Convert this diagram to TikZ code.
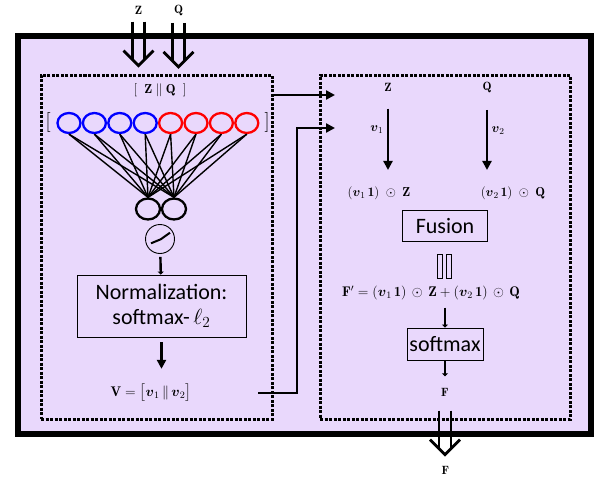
\RequirePackage{fix-cm}
\documentclass[tikz,border=0pt]{standalone}
\usepackage{amsmath}
\usepackage{fontspec}
\newfontfamily\calibri{Carlito}
\usepackage{tikz}
\usetikzlibrary{shapes.geometric, positioning, arrows.meta, calc}
\definecolor{panelpurple}{RGB}{233,216,252}

\begin{document}
\begin{tikzpicture}[
  x=1pt, y=-1pt,
  font=\fontsize{12}{14}\selectfont,
  dotbox/.style={draw, line width=3pt, dash pattern=on 3pt off 1.5pt},
  unit/.style={ellipse, draw, line width=2.3pt, minimum width=23pt,
    minimum height=20pt, inner sep=0pt},
  opbox/.style={draw, line width=0.8pt, align=center, inner sep=1pt,
    font=\calibri\fontsize{22}{25}\selectfont},
  arrow/.style={-{Triangle[width=9pt,length=9pt]}, line width=2.6pt},
  stub/.style={-{Triangle[width=6pt,length=3pt]}, line width=2.4pt},
  mathlbl/.style={font=\fontsize{13}{15}\selectfont},
  fat in/.pic={
    \draw[line width=2.8pt] (-6,0) -- (-6,37) (6,0) -- (6,37);
    \draw[line width=2.8pt] (-15,29) -- (0,44) -- (15,29);
  }
]
\useasboundingbox (0,0) rectangle (603,480);
\draw[line width=6pt, fill=panelpurple] (18,36) rectangle (591,434);
\node[dotbox, minimum width=231pt, minimum height=344pt] (lbox) at (156.5,247) {};
\node[dotbox, minimum width=250pt, minimum height=344pt] (rbox) at (445,247) {};

% inputs
\node (zin) at (138.5,10) {$\mathbf{Z}$};
\node (qin) at (178.5,10) {$\mathbf{Q}$};
\path (zin.south) ++(0,4) pic {fat in};
\path (qin.south) ++(0,4) pic {fat in};

% left block
\node[mathlbl] (zq) at (160,90) {$[\;\;\mathbf{Z}\;\|\;\mathbf{Q}\;\;]$};
\foreach \i/\c in {1/blue,2/blue,3/blue,4/blue,5/red,6/red,7/red,8/red}
  \node[unit, draw=\c] (u\i) at ({43.6+25.4*\i},123) {};
\node[font=\fontsize{20}{22}\selectfont] (lbr) at (48,122) {[};
\node[font=\fontsize{20}{22}\selectfont] (rbr) at (267,122) {]};
\node[unit, minimum width=24pt, minimum height=21pt] (h1) at (148,209) {};
\node[unit, minimum width=24pt, minimum height=21pt] (h2) at (174,209) {};
\foreach \i in {1,...,8}
  \foreach \j in {1,2}
    \draw[line width=1.4pt] (u\i.south) -- (h\j.north);
\node[circle, draw, line width=0.9pt, minimum size=29pt, inner sep=0pt] (act) at (160,239) {};
\draw[line width=2pt] ($(act)+(-9,4.3)$) -- ($(act)+(0.7,0.3)$) -- ($(act)+(10,-6.3)$);
\node[opbox, minimum width=169pt, minimum height=62pt] (norm) at (161.5,306)
  {Normalization:\\softmax-\,$\ell_2$};
\node[font=\fontsize{14}{16}\selectfont] (vlab) at (151,393)
  {$\mathbf{V} = \bigl[\boldsymbol{v}_1 \,\|\, \boldsymbol{v}_2\bigr]$};
\draw[stub, shorten <=3pt] (act) -- (norm);
\draw[arrow, shorten <=5pt, shorten >=12pt] (norm.south) -- (norm.south |- vlab.north);

% links
\coordinate (zqin) at (335,95);
\coordinate (vin) at (335,128);
\coordinate (vout) at (258,393);
\draw[arrow] (lbox.east |- zqin) -- (zqin);
\draw[arrow] (vout) -- ++(39,0) |- (vin);

% right block
\node (zr) at (388,87) {$\mathbf{Z}$};
\node (qr) at (487,87) {$\mathbf{Q}$};
\node[mathlbl] (zmod) at (379,193) {$(\boldsymbol{v}_1\,\mathbf{1})\;\odot\;\mathbf{Z}$};
\node[mathlbl] (qmod) at (513,193) {$(\boldsymbol{v}_2\,\mathbf{1})\;\odot\;\mathbf{Q}$};
\draw[arrow, shorten <=14pt, shorten >=13pt] (zr) -- node[mathlbl, pos=0.4, left] {$\boldsymbol{v}_1$} (zr |- zmod.north);
\draw[arrow, shorten <=14pt, shorten >=13pt] (qr) -- node[mathlbl, pos=0.4, right] {$\boldsymbol{v}_2$} (qr |- qmod.north);
\node[opbox, minimum width=85pt, minimum height=31pt] (fusion) at (445,226) {Fusion};
\draw[line width=0.8pt] ([xshift=-8pt, yshift=-12pt]fusion.south) rectangle ++(5,24)
  ([xshift=1pt, yshift=-12pt]fusion.south) rectangle ++(5,24);
\node[font=\fontsize{14}{16}\selectfont] (fprime) at (431,293)
  {$\mathbf{F}' =(\boldsymbol{v}_1\,\mathbf{1})\,\odot\,\mathbf{Z} + (\boldsymbol{v}_2\,\mathbf{1})\,\odot\,\mathbf{Q}$};
\node[opbox, minimum width=76pt, minimum height=32pt] (sm) at (445,344) {softmax};
\node (fout) at (445,392) {$\mathbf{F}$};
\draw[stub, shorten <=4pt] (sm |- fprime.south) -- (sm);
\draw[stub, shorten >=8pt] (sm) -- (fout);
\path (fout.south) ++(0,11) pic {fat in};
\node (fend) at (445.5,470) {$\mathbf{F}$};
\end{tikzpicture}
\end{document}
